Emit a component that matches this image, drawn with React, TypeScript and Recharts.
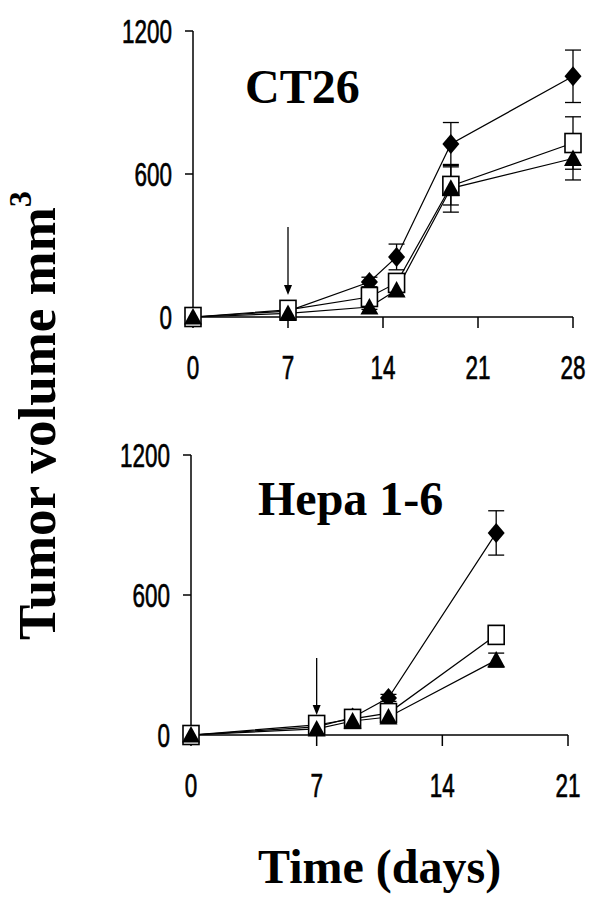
import React from 'react';
import { LineChart, Line, XAxis, YAxis, ErrorBar, ReferenceLine } from 'recharts';

// CT26 (top panel)
const ct26Days = [0, 7, 13, 15, 19, 28];
const ct26Diamond = [0, 25, 147, 252, 726, 1010];
const ct26DiamondErr = [0, 5, 20, 54, 90, 110];
const ct26Square = [0, 30, 84, 143, 550, 730];
const ct26SquareErr = [0, 5, 15, 30, 80, 110];
const ct26Triangle = [0, 15, 42, 113, 540, 665];
const ct26TriangleErr = [0, 5, 10, 25, 100, 90];
const ct26Ticks = [0, 7, 14, 21, 28];

// Hepa 1-6 (bottom panel)
const hepaDays = [0, 7, 9, 11, 17];
const hepaDiamond = [0, 35, 75, 159, 866];
const hepaDiamondErr = [0, 5, 10, 15, 95];
const hepaSquare = [0, 43, 69, 94, 429];
const hepaSquareErr = [0, 5, 8, 10, 40];
const hepaTriangle = [0, 26, 60, 77, 321];
const hepaTriangleErr = [0, 5, 8, 10, 30];
const hepaTicks = [0, 7, 14, 21];

const yTicks = [0, 600, 1200];
// treatment arrow (day, from value, to value)
const ct26Arrow = { day: 7, from: 378, to: 92 };
const hepaArrow = { day: 7, from: 330, to: 86 };

const serif = '"Liberation Serif", "Times New Roman", serif';
const sans = '"Liberation Sans", Arial, sans-serif';

function rows(days: number[], d: number[], de: number[], s: number[], se: number[], t: number[], te: number[]) {
  return days.map((day, i) => ({
    day,
    diamond: d[i], diamondErr: de[i],
    square: s[i], squareErr: se[i],
    triangle: t[i], triangleErr: te[i],
  }));
}

const ct26Data = rows(ct26Days, ct26Diamond, ct26DiamondErr, ct26Square, ct26SquareErr, ct26Triangle, ct26TriangleErr);
const hepaData = rows(hepaDays, hepaDiamond, hepaDiamondErr, hepaSquare, hepaSquareErr, hepaTriangle, hepaTriangleErr);

const DiamondDot = (p: any) => (
  <polygon key={`d${p.index}`} points={`${p.cx},${p.cy - 10} ${p.cx + 8.5},${p.cy} ${p.cx},${p.cy + 10} ${p.cx - 8.5},${p.cy}`} fill="#000" />
);
const SquareDot = (p: any) => (
  <rect key={`s${p.index}`} x={p.cx - 8} y={p.cy - 9.5} width={16} height={19} fill="#fff" stroke="#000" strokeWidth={1.6} />
);
const TriangleDot = (p: any) => (
  <polygon key={`t${p.index}`} points={`${p.cx},${p.cy - 9} ${p.cx + 9},${p.cy + 7.5} ${p.cx - 9},${p.cy + 7.5}`} fill="#000" />
);

const YTick = (p: any) => (
  <text transform={`translate(${p.x - 11},${p.y + 12}) scale(0.66,1)`} textAnchor="end" fontFamily={sans} fontSize={34}
    fill="#000" stroke="#000" strokeWidth={0.7}>
    {p.payload.value}
  </text>
);
const XTick = (p: any) => (
  <text transform={`translate(${p.x},${p.y + 51}) scale(0.66,1)`} textAnchor="middle" fontFamily={sans} fontSize={34}
    fill="#000" stroke="#000" strokeWidth={0.7}>
    {p.payload.value}
  </text>
);

const Arrow = (p: any) => {
  const { x1, y1, x2, y2 } = p;
  return (
    <g>
      <line x1={x1} y1={y1} x2={x2} y2={y2 - 8} stroke="#000" strokeWidth={1.3} />
      <polygon points={`${x2 - 4},${y2 - 10} ${x2 + 4},${y2 - 10} ${x2},${y2}`} fill="#000" />
    </g>
  );
};

function Panel({ data, ticks, maxDay, arrow, left, right, top, bottom }: any) {
  return (
    <LineChart width={601} height={400} data={data} margin={{ top, right, bottom, left: 0 }}>
      <XAxis dataKey="day" type="number" domain={[0, maxDay]} ticks={ticks} tickSize={11} tickMargin={0}
        stroke="#000" strokeWidth={1.5} tick={<XTick />} height={60} />
      <YAxis type="number" domain={[0, 1200]} ticks={yTicks} tickSize={8} tickMargin={2}
        stroke="#000" strokeWidth={1.5} tick={<YTick />} width={left} />
      <ReferenceLine segment={[{ x: arrow.day, y: arrow.from }, { x: arrow.day, y: arrow.to }]} shape={<Arrow />} />
      <Line dataKey="diamond" stroke="#000" strokeWidth={1.2} dot={DiamondDot} isAnimationActive={false}>
        <ErrorBar dataKey="diamondErr" width={8} stroke="#000" strokeWidth={1.3} direction="y" isAnimationActive={false} />
      </Line>
      <Line dataKey="square" stroke="#000" strokeWidth={1.2} dot={SquareDot} isAnimationActive={false}>
        <ErrorBar dataKey="squareErr" width={8} stroke="#000" strokeWidth={1.3} direction="y" isAnimationActive={false} />
      </Line>
      <Line dataKey="triangle" stroke="#000" strokeWidth={1.2} dot={TriangleDot} isAnimationActive={false}>
        <ErrorBar dataKey="triangleErr" width={8} stroke="#000" strokeWidth={1.3} direction="y" isAnimationActive={false} />
      </Line>
    </LineChart>
  );
}

export default function App() {
  return (
    <div style={{ position: 'absolute', left: 0, top: 0, width: 601, height: 911, background: '#fff', overflow: 'hidden' }}>
      <div style={{ position: 'absolute', left: 0, top: 0 }}>
        <Panel data={ct26Data} ticks={ct26Ticks} maxDay={28} arrow={ct26Arrow} left={193} right={28} top={31} bottom={23} />
      </div>
      <div style={{ position: 'absolute', left: 0, top: 420 }}>
        <Panel data={hepaData} ticks={hepaTicks} maxDay={21} arrow={hepaArrow} left={191} right={33} top={35} bottom={25} />
      </div>
      <svg width={601} height={911} style={{ position: 'absolute', left: 0, top: 0, pointerEvents: 'none' }}>
        <text x={245} y={103} fontFamily={serif} fontWeight="bold" fontSize={48} fill="#000">CT26</text>
        <text x={258} y={515} fontFamily={serif} fontWeight="bold" fontSize={48} fill="#000">Hepa 1-6</text>
        <text x={258} y={883} fontFamily={serif} fontWeight="bold" fontSize={48} fill="#000">Time (days)</text>
        <text transform="translate(55,640) rotate(-90)" fontFamily={serif} fontWeight="bold" fontSize={53} fill="#000">
          Tumor volume mm<tspan fontSize={32} dy={-24}>3</tspan>
        </text>
      </svg>
    </div>
  );
}
